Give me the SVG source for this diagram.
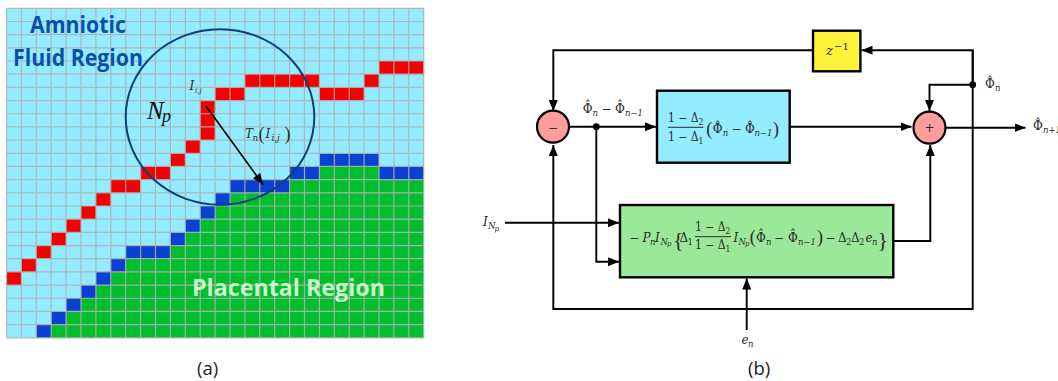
<svg xmlns="http://www.w3.org/2000/svg" width="1058" height="381" viewBox="0 0 1058 381">
<style>
.r{fill:#f40000}.b{fill:#0a41d2}.g{fill:#00be2e}
.lab{font-family:"Open Sans",sans-serif;font-weight:700;font-size:22.5px}
.cap{font-family:"Open Sans",sans-serif;font-size:18.5px;fill:#222}
.m{font-family:"DejaVu Serif",serif;font-size:12px;fill:#2b2b2b}
.i{font-style:italic}
.s{font-size:8.5px}
.t{font-size:7px}
.p{font-family:"Liberation Serif",serif;font-size:18px;fill:#2b2b2b;font-style:normal}
.bc{font-family:"Liberation Serif",serif;font-size:22px;fill:#2b2b2b}
.w{stroke:#000;stroke-width:1.9;fill:none}
.box{stroke:#000;stroke-width:2.4}
.sum{fill:#ff9c9c;stroke:#000;stroke-width:2.2}
.bar{stroke:#2b2b2b;stroke-width:1}
</style>
<defs>
<marker id="ah" markerUnits="userSpaceOnUse" markerWidth="12" markerHeight="10" refX="11" refY="5" orient="auto"><path d="M0 .5L11 5L0 9.5z" fill="#000"/></marker>
</defs>
<rect width="1058" height="381" fill="#fff"/>
<g id="panel-a">
<g transform="translate(6.5 8.3) scale(14.9 13.18)">
<rect width="28" height="25" fill="#93ecff"/>
<g class="g">
<rect x="21" y="12" width="4" height="1"/><rect x="19" y="13" width="9" height="1"/><rect x="15" y="14" width="13" height="1"/><rect x="14" y="15" width="14" height="1"/><rect x="13" y="16" width="15" height="1"/><rect x="12" y="17" width="16" height="1"/><rect x="11" y="18" width="17" height="1"/><rect x="8" y="19" width="20" height="1"/><rect x="7" y="20" width="21" height="1"/><rect x="6" y="21" width="22" height="1"/><rect x="5" y="22" width="23" height="1"/><rect x="4" y="23" width="24" height="1"/><rect x="3" y="24" width="25" height="1"/>
</g>
<g class="r">
<rect x="25" y="4" width="3" height="1"/><rect x="16" y="5" width="5" height="1"/><rect x="24" y="5" width="1" height="1"/><rect x="14" y="6" width="2" height="1"/><rect x="21" y="6" width="3" height="1"/><rect x="13" y="7" width="1" height="3"/><rect x="12" y="10" width="1" height="1"/><rect x="11" y="11" width="1" height="1"/><rect x="9" y="12" width="2" height="1"/><rect x="7" y="13" width="2" height="1"/><rect x="6" y="14" width="1" height="1"/><rect x="5" y="15" width="1" height="1"/><rect x="4" y="16" width="1" height="1"/><rect x="3" y="17" width="1" height="1"/><rect x="2" y="18" width="1" height="1"/><rect x="1" y="19" width="1" height="1"/><rect x="0" y="20" width="1" height="1"/>
</g>
<g class="b">
<rect x="21" y="11" width="4" height="1"/><rect x="19" y="12" width="2" height="1"/><rect x="25" y="12" width="3" height="1"/><rect x="15" y="13" width="4" height="1"/><rect x="14" y="14" width="1" height="1"/><rect x="13" y="15" width="1" height="1"/><rect x="12" y="16" width="1" height="1"/><rect x="11" y="17" width="1" height="1"/><rect x="8" y="18" width="3" height="1"/><rect x="7" y="19" width="1" height="1"/><rect x="6" y="20" width="1" height="1"/><rect x="5" y="21" width="1" height="1"/><rect x="4" y="22" width="1" height="1"/><rect x="3" y="23" width="1" height="1"/><rect x="2" y="24" width="1" height="1"/>
</g>
<path vector-effect="non-scaling-stroke" stroke="#b0b0b0" stroke-opacity=".9" stroke-width="1.2" fill="none" d="M0 0V25M1 0V25M2 0V25M3 0V25M4 0V25M5 0V25M6 0V25M7 0V25M8 0V25M9 0V25M10 0V25M11 0V25M12 0V25M13 0V25M14 0V25M15 0V25M16 0V25M17 0V25M18 0V25M19 0V25M20 0V25M21 0V25M22 0V25M23 0V25M24 0V25M25 0V25M26 0V25M27 0V25M28 0V25M0 0H28M0 1H28M0 2H28M0 3H28M0 4H28M0 5H28M0 6H28M0 7H28M0 8H28M0 9H28M0 10H28M0 11H28M0 12H28M0 13H28M0 14H28M0 15H28M0 16H28M0 17H28M0 18H28M0 19H28M0 20H28M0 21H28M0 22H28M0 23H28M0 24H28M0 25H28"/>
</g>
<ellipse cx="220" cy="117" rx="94.3" ry="87.8" fill="none" stroke="#0c3f78" stroke-width="2"/>
<line x1="206" y1="106" x2="263" y2="184.5" stroke="#000" stroke-width="1.6" marker-end="url(#ah)"/>
<text class="lab" x="30" y="33" fill="#0a50a8" textLength="96" lengthAdjust="spacingAndGlyphs">Amniotic</text>
<text class="lab" x="13" y="66" fill="#0a50a8" textLength="130" lengthAdjust="spacingAndGlyphs">Fluid Region</text>
<text class="lab" x="192" y="296" fill="#c9f5c9" textLength="193" lengthAdjust="spacingAndGlyphs">Placental Region</text>
<text x="147" y="119" font-family="Liberation Serif, serif" font-style="italic" font-size="25" fill="#111">N<tspan x="162" y="122" font-size="18">p</tspan></text>
<text class="m i" x="189.5" y="90">I<tspan class="t" x="195" y="92.5">i,j</tspan></text>
<text class="m i" y="138"><tspan x="245">T</tspan><tspan class="s" x="252.5" y="141">n</tspan><tspan class="p" x="258.5" y="139.5">(</tspan><tspan x="265.5" y="138">I</tspan><tspan class="s" x="271.5" y="141">i,j</tspan><tspan class="p" x="284.5" y="139.5">)</tspan></text>
<text class="cap" x="197" y="375">(a)</text>
</g>
<g id="connectors">
<path class="w" d="M812.7 50.3H553.3V111" marker-end="url(#ah)"/>
<path class="w" d="M972.7 84.7V50.3H861.5" marker-end="url(#ah)"/>
<path class="w" d="M972.7 50.3V309H553.3V145" marker-end="url(#ah)"/>
<path class="w" d="M972.7 84.7H929.5V111" marker-end="url(#ah)"/>
<path class="w" d="M569.5 126.7H656" marker-end="url(#ah)"/>
<path class="w" d="M789.7 126.7H911.5" marker-end="url(#ah)"/>
<path class="w" d="M946 127.7H1025.5" marker-end="url(#ah)"/>
<path class="w" d="M596.3 126.7V261.7H619" marker-end="url(#ah)"/>
<path class="w" d="M505 222.7H619" marker-end="url(#ah)"/>
<path class="w" d="M893.3 241H930.3V145" marker-end="url(#ah)"/>
<path class="w" d="M746.7 330V278.5" marker-end="url(#ah)"/>
<circle cx="596.3" cy="126.7" r="3.4" fill="#000"/>
<circle cx="972.7" cy="84.7" r="3.4" fill="#000"/>
</g>
<g id="node-minus"><circle class="sum" cx="553" cy="126.7" r="16"/><text class="m" x="553" y="131.5" text-anchor="middle">−</text></g>
<g id="node-plus"><circle class="sum" cx="929.5" cy="127.7" r="16"/><text class="m" x="929.5" y="132" text-anchor="middle">+</text></g>
<g id="node-delay"><rect class="box" x="813" y="30.7" width="47.4" height="40.6" fill="#fff23c"/><text class="m" x="826" y="55"><tspan class="i" font-size="13">z</tspan><tspan font-size="10" x="834" y="50">−1</tspan></text></g>
<g id="node-gain"><rect class="box" x="657" y="90.7" width="132.7" height="72" fill="#93ecff"/>
<text class="m" x="668" y="121.5" textLength="35.5" lengthAdjust="spacingAndGlyphs">1 − Δ<tspan class="s" dy="3">2</tspan></text>
<line class="bar" x1="668" y1="127.3" x2="703.5" y2="127.3"/>
<text class="m" x="668" y="141" textLength="35.5" lengthAdjust="spacingAndGlyphs">1 − Δ<tspan class="s" dy="3">1</tspan></text>
<text class="p" x="706.3" y="134.5">(</text>
<text class="m" y="133"><tspan x="712.7">Φ</tspan><tspan x="714.7" y="130.5">ˆ</tspan><tspan class="i s" x="722.7" y="136">n</tspan><tspan x="731.5" y="133">−</tspan><tspan x="745">Φ</tspan><tspan x="747" y="130.5">ˆ</tspan><tspan class="i s" x="754.5" y="136">n−1</tspan></text>
<text class="p" x="773" y="134.5">)</text>
</g>
<g id="node-correction"><rect class="box" x="620" y="205" width="273.3" height="72.3" fill="#9be898"/>
<text class="m" y="241.5"><tspan x="629.5">−</tspan><tspan class="i" x="642.5">P</tspan><tspan class="i s" x="650" y="244.5">n</tspan><tspan class="i" x="655" y="241.5">I</tspan><tspan class="i s" x="660.5" y="244.5">N</tspan><tspan class="i t" x="667" y="246">p</tspan></text>
<text class="bc" x="673" y="247">{</text>
<text class="m" x="679.5" y="241.5">Δ<tspan class="s" x="687.5" y="244.5">1</tspan></text>
<text class="m" x="695" y="230.5" textLength="35.5" lengthAdjust="spacingAndGlyphs">1 − Δ<tspan class="s" dy="3">2</tspan></text>
<line class="bar" x1="695" y1="236.7" x2="731" y2="236.7"/>
<text class="m" x="695" y="249" textLength="35.5" lengthAdjust="spacingAndGlyphs">1 − Δ<tspan class="s" dy="3">1</tspan></text>
<text class="m i" x="733.5" y="241.5">I<tspan class="s" x="738.5" y="244.5">N</tspan><tspan class="t" x="745" y="246">p</tspan></text>
<text class="p" x="749.7" y="243">(</text>
<text class="m" y="241.5"><tspan x="756">Φ</tspan><tspan x="758" y="239">ˆ</tspan><tspan class="i s" x="766" y="244.5">n</tspan><tspan x="774" y="241.5">−</tspan><tspan x="788">Φ</tspan><tspan x="790" y="239">ˆ</tspan><tspan class="i s" x="798" y="244.5">n−1</tspan></text>
<text class="p" x="817" y="243">)</text>
<text class="m" x="825.5" y="241.5">−</text>
<text class="m" y="241.5"><tspan x="838">Δ</tspan><tspan class="s" x="846" y="244.5">2</tspan><tspan x="851" y="241.5">Δ</tspan><tspan class="s" x="859" y="244.5">2</tspan><tspan class="i" x="865.5" y="241.5">e</tspan><tspan class="i s" x="872" y="244.5">n</tspan></text>
<text class="bc" x="877.5" y="247">}</text>
</g>
<g id="labels">
<text class="m" y="112.7"><tspan x="582.7">Φ</tspan><tspan x="584.7" y="110.2">ˆ</tspan><tspan class="i s" x="592.5" y="115.7">n</tspan><tspan x="601.5" y="112.7">−</tspan><tspan x="615">Φ</tspan><tspan x="617" y="110.2">ˆ</tspan><tspan class="i s" x="625" y="115.7">n−1</tspan></text>
<text class="m" x="985" y="88.3">Φ<tspan x="987" y="85.8">ˆ</tspan><tspan class="i s" x="995" y="91.3">n</tspan></text>
<text class="m" x="1033" y="130">Φ<tspan x="1035" y="127.5">ˆ</tspan><tspan class="i s" x="1043" y="133">n+1</tspan></text>
<text class="m i" x="483" y="226">I<tspan class="s" x="488" y="229">N</tspan><tspan class="t" x="494.5" y="230.5">p</tspan></text>
<text class="m i" x="741.5" y="344">e<tspan class="s" x="748" y="347">n</tspan></text>
<text class="cap" x="748" y="375">(b)</text>
</g>
</svg>
